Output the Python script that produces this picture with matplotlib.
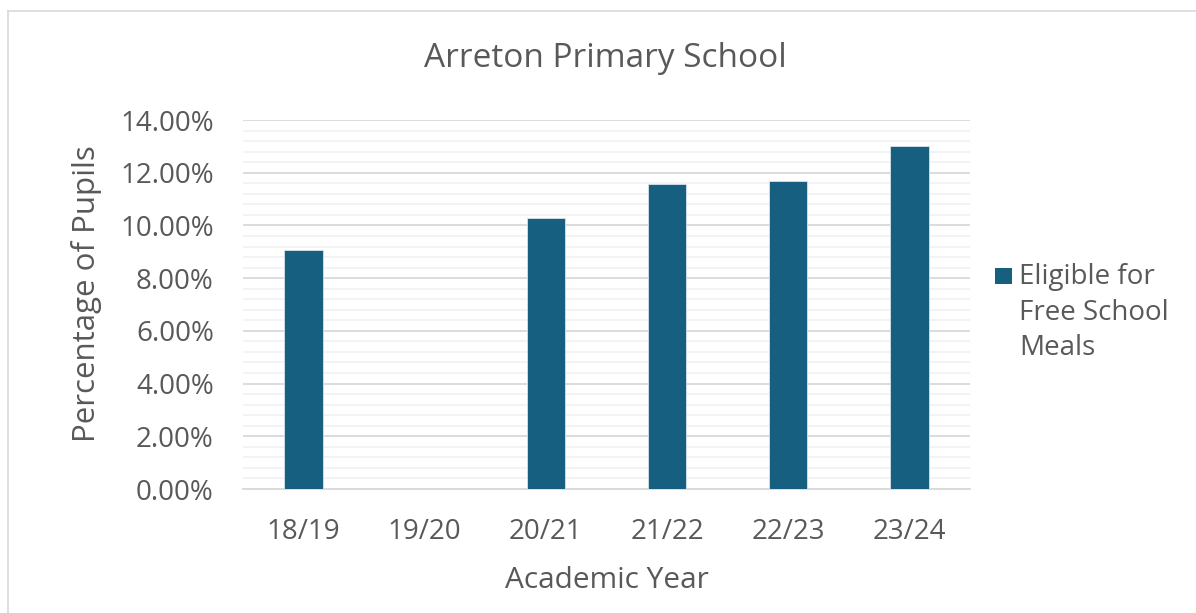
import matplotlib
matplotlib.use("Agg")
import matplotlib.pyplot as plt
import numpy as np
from matplotlib.ticker import MultipleLocator, FuncFormatter
from matplotlib.lines import Line2D
from matplotlib.patches import Rectangle

years = ["18/19", "19/20", "20/21", "21/22", "22/23", "23/24"]
fsm_pct = [9.08, 0.0, 10.30, 11.59, 11.69, 13.03]
series_lines = ["Eligible for", "Free School", "Meals"]
title = "Arreton Primary School"

plt.rcParams['font.family'] = ['Open Sans', 'DejaVu Sans']
txt = '#595959'
bar_color = '#175F80'
W, H = 1196, 613
fs = 20

def fx(px):
    return px / W

def fy(py):
    return 1 - py / H

fig = plt.figure(figsize=(W/100, H/100), dpi=100)
ax = fig.add_axes([fx(243), fy(489), (970-243)/W, (489-120)/H])

x = np.arange(len(years))
ax.bar(x, fsm_pct, width=0.315, color=bar_color, edgecolor='#d6e3ea', linewidth=0.6, zorder=3)
ax.set_xlim(-0.5, len(years)-0.5)
ax.set_ylim(0, 14)
ax.yaxis.set_major_locator(MultipleLocator(2))
ax.yaxis.set_minor_locator(MultipleLocator(0.4))
ax.yaxis.set_major_formatter(FuncFormatter(lambda v, p: f"{v:.2f}%"))
ax.grid(which='major', axis='y', color='#d9d9d9', linewidth=1.3, zorder=0)
ax.grid(which='minor', axis='y', color='#f2f2f2', linewidth=1.3, zorder=0)
ax.set_xticks(x)
ax.set_xticklabels(years)
for s in ['top', 'right', 'left']:
    ax.spines[s].set_visible(False)
ax.spines['bottom'].set_color('#d9d9d9')
ax.spines['bottom'].set_linewidth(1.3)
ax.tick_params(axis='both', which='both', length=0, labelsize=fs, colors=txt)
ax.tick_params(axis='y', pad=21)
ax.tick_params(axis='x', pad=21)

fig.text(fx(607), fy(588), "Academic Year", ha='center', va='baseline', fontsize=21.5, color=txt)
fig.text(fx(87), fy(294), "Percentage of Pupils", ha='center', va='center', rotation=90,
         fontsize=22.5, color=txt)
fig.text(fx(605), fy(67), title, ha='center', va='baseline', fontsize=24, color=txt)

# legend
fig.add_artist(Rectangle((fx(995), fy(284)), (1012-995)/W, (284-268)/H, transform=fig.transFigure,
                         facecolor=bar_color, edgecolor='none'))
for line, base in zip(series_lines, [284, 320, 355]):
    fig.text(fx(1019), fy(base), line, ha='left', va='baseline', fontsize=fs, color=txt)

# chart-area border (partially visible)
fig.add_artist(Line2D([fx(8), fx(8)], [0, fy(11)], transform=fig.transFigure, color='#d9d9d9', lw=1.2))
fig.add_artist(Line2D([fx(8), 1], [fy(11), fy(11)], transform=fig.transFigure, color='#d9d9d9', lw=1.2))

fig.savefig("out.png", dpi=100)
